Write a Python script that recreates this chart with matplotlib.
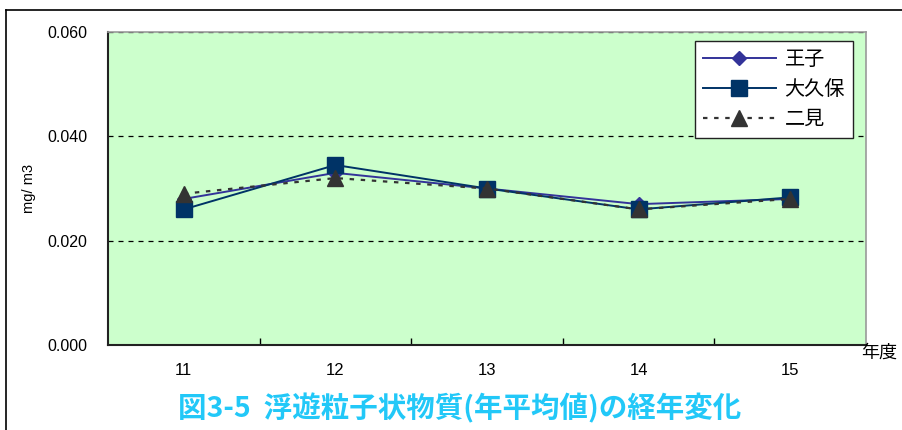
import matplotlib
matplotlib.use("Agg")
import matplotlib.pyplot as plt
from matplotlib.lines import Line2D
from matplotlib.ticker import FixedLocator, NullFormatter, FixedFormatter

plt.rcParams['font.family'] = ['Liberation Sans', 'Noto Sans CJK JP', 'DejaVu Sans']

# Annual mean suspended particulate matter (mg/m3) by fiscal year
years = ['11', '12', '13', '14', '15']
ouji = [0.028, 0.033, 0.030, 0.027, 0.028]
ookubo = [0.026, 0.0345, 0.030, 0.026, 0.0283]
futami = [0.029, 0.032, 0.030, 0.026, 0.028]
series_names = ['王子', '大久保', '二見']
yticks = [0.000, 0.020, 0.040, 0.060]
title = '図3-5  浮遊粒子状物質(年平均値)の経年変化'

W, H = 902, 430
fig = plt.figure(figsize=(W / 100, H / 100), dpi=100)
fig.patch.set_facecolor('white')

# plot area in pixel terms
L, R, T, B = 108, 866, 32, 345
ax = fig.add_axes([L / W, 1 - B / H, (R - L) / W, (B - T) / H])
ax.set_facecolor('#ccffcc')

x = list(range(len(years)))
ax.plot(x, ouji, color='#333399', lw=1.4, marker='D', ms=7,
        mfc='#333399', mec='#333399', label=series_names[0], zorder=3)
ax.plot(x, ookubo, color='#003366', lw=1.4, marker='s', ms=11.5,
        mfc='#003366', mec='#003366', label=series_names[1], zorder=4)
ax.plot(x, futami, color='#333333', lw=1.6, ls=(0, (2, 3)), marker='^', ms=12,
        mfc='#333333', mec='#333333', label=series_names[2], zorder=5)

ax.set_xlim(-0.5, len(years) - 0.5)
ax.set_ylim(0, 0.060)

# category boundary ticks (inside) and centred labels
ax.xaxis.set_major_locator(FixedLocator([i + 0.5 for i in range(len(years) - 1)]))
ax.xaxis.set_major_formatter(NullFormatter())
ax.xaxis.set_minor_locator(FixedLocator(x))
ax.xaxis.set_minor_formatter(FixedFormatter(years))
ax.tick_params(axis='x', which='major', direction='in', length=5, width=1, color='black')
ax.tick_params(axis='x', which='minor', length=0, pad=13, labelsize=12)

ax.set_yticks(yticks)
ax.set_yticklabels([f'{v:.3f}' for v in yticks])
ax.tick_params(axis='y', length=0, pad=15, labelsize=11.5)

for v in yticks[1:]:
    ax.axhline(v, color='black', lw=0.9, ls=(0, (4, 4)), zorder=1)

for side in ('top', 'right'):
    ax.spines[side].set_color('#999999')
    ax.spines[side].set_linewidth(1.2)
for side in ('left', 'bottom'):
    ax.spines[side].set_color('#222222')
    ax.spines[side].set_linewidth(1.5)

ax.set_ylabel('mg/ m3', fontsize=10.5, labelpad=8)

leg = ax.legend(loc='upper right', bbox_to_anchor=((853 - L) / (R - L), 1 - (41 - T) / (B - T)),
                handlelength=3.6, labelspacing=0.45, borderpad=0.4,
                handletextpad=0.45, fancybox=False, framealpha=1, edgecolor='#222222',
                borderaxespad=0, prop={'family': ['Noto Sans CJK JP'], 'size': 14.5})
leg.get_frame().set_linewidth(1.0)

fig.text(861 / W, 1 - 353 / H, '年度', fontsize=13, family=['Noto Sans CJK JP'],
         ha='left', va='center')

fig.text(178 / W, 1 - 408 / H, title, fontsize=20.5, fontweight='bold',
         color='#22c8f8', family=['Noto Sans CJK JP'], ha='left', va='center')

# outer frame along the left and top edges
fig.add_artist(Line2D([6 / W, 6 / W], [0, 1 - 10 / H], transform=fig.transFigure,
                      color='black', lw=1.2))
fig.add_artist(Line2D([6 / W, 1], [1 - 10 / H, 1 - 10 / H], transform=fig.transFigure,
                      color='black', lw=1.2))

fig.savefig('out.png', dpi=100)
